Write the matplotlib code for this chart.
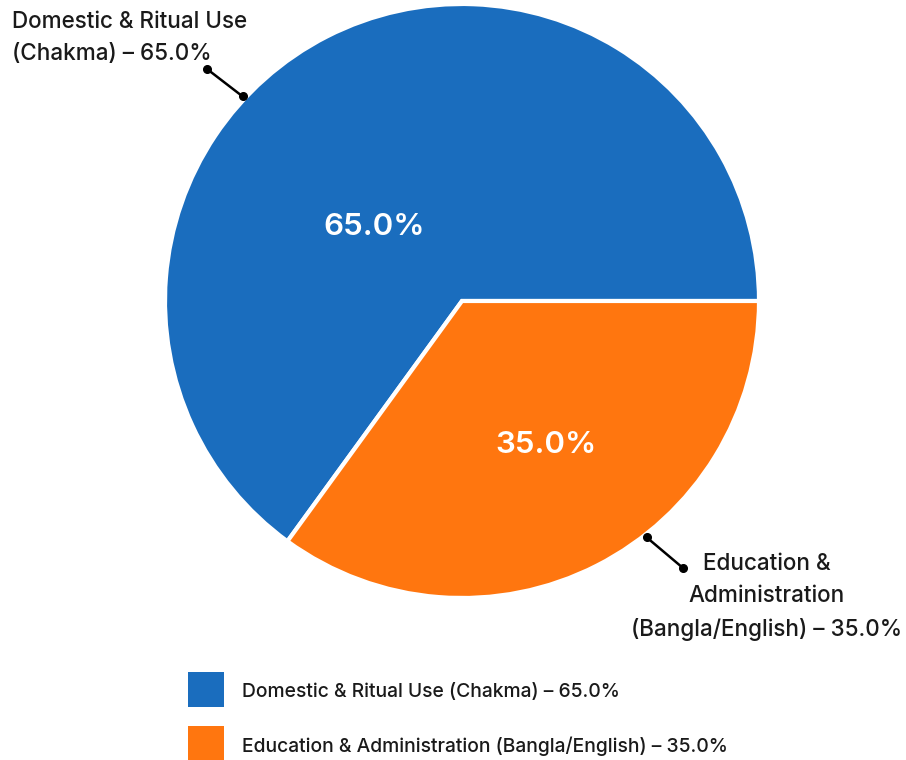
import matplotlib.pyplot as plt
import numpy as np
from matplotlib.patches import Rectangle

# data
labels = ['Domestic & Ritual Use (Chakma)', 'Education & Administration (Bangla/English)']
short_labels = ['Domestic & Ritual Use\n(Chakma) – 65.0%', 'Education &\nAdministration\n(Bangla/English) – 35.0%']
shares = [65.0, 35.0]
colors = ['#1A6DBE', '#FF760F']

plt.rcParams['font.family'] = ['Inter', 'DejaVu Sans']

fig = plt.figure(figsize=(9.06, 7.6), dpi=100)
W, H = 906, 760
cx, cy, r = 462, 301, 297
ax = fig.add_axes([(cx - r) / W, (H - cy - r) / H, 2 * r / W, 2 * r / H])

wedges, _, autotexts = ax.pie(shares, colors=colors, startangle=0, counterclock=True,
                              autopct='%1.1f%%', pctdistance=0.5,
                              wedgeprops=dict(edgecolor='white', linewidth=3),
                              textprops=dict(color='white', fontsize=22.5, fontweight=600))
ax.set_xlim(-1, 1)
ax.set_ylim(-1, 1)
ax.set_aspect('equal')
ax.axis('off')


def to_data(px, py):
    return ((px - cx) / r, (cy - py) / r)


# move percentage labels
pct_pos = [to_data(374, 227), to_data(546, 445)]
for t, p in zip(autotexts, pct_pos):
    t.set_position(p)
    t.set_ha('center')
    t.set_va('center')

# outside labels with leader lines
edge_angles = [137, -52]
text_ends = [(207, 69), (683, 568)]
for ang, end in zip(edge_angles, text_ends):
    a = np.deg2rad(ang)
    x0, y0 = 1.01 * np.cos(a), 1.01 * np.sin(a)
    x1, y1 = to_data(*end)
    ax.plot([x0, x1], [y0, y1], color='black', lw=1.8, clip_on=False)
    ax.plot([x0, x1], [y0, y1], 'o', color='black', ms=5.5, clip_on=False)

fig.text(12 / W, 1 - 11 / H, short_labels[0], ha='left', va='top', fontsize=16.2,
         fontweight=500, color='#1a1a1a', linespacing=1.6)
fig.text(767 / W, 1 - 553 / H, short_labels[1], ha='center', va='top', fontsize=16.2,
         fontweight=500, color='#1a1a1a', linespacing=1.6, multialignment='center')

# legend
leg_labels = [f'{l} – {s:.1f}%' for l, s in zip(labels, shares)]
for i, (c, l) in enumerate(zip(colors, leg_labels)):
    y = 672 + i * 54
    fig.patches.append(Rectangle((188 / W, 1 - (y + 35) / H), 36 / W, 35 / H,
                                 transform=fig.transFigure, facecolor=c, edgecolor='none'))
    fig.text(242 / W, 1 - (y + 20) / H, l, ha='left', va='center', fontsize=13.9,
             fontweight=500, color='#1a1a1a')

fig.savefig('out.png', dpi=100, facecolor='white')
